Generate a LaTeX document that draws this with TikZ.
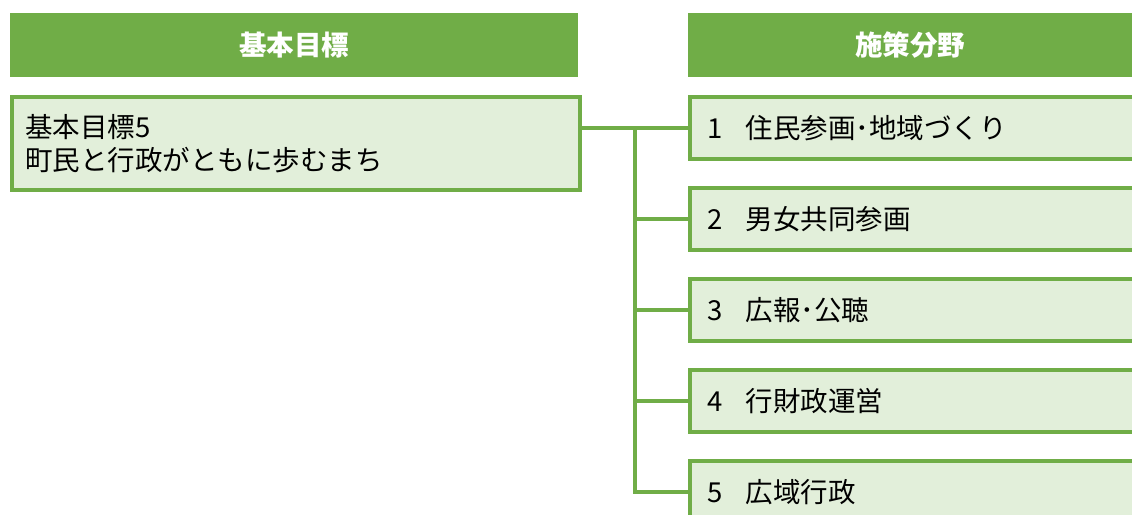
\documentclass[tikz,border=0pt]{standalone}
\usepackage{fontspec}
\setmainfont{Noto Sans CJK JP}
\usetikzlibrary{calc}
\definecolor{leaf}{HTML}{70AD47}
\definecolor{pale}{HTML}{E2EFDA}
\tikzset{
  head/.style={fill=leaf, text=white, font=\bfseries\fontsize{27.5}{30}\selectfont,
    minimum height=64pt, inner sep=0pt, anchor=north west},
  goalbox/.style={draw=leaf, fill=pale, line width=4pt, anchor=north west,
    minimum height=93pt, text width=542pt, inner xsep=13pt, align=left,
    font=\fontsize{27.5}{33}\selectfont},
  fieldbox/.style={draw=leaf, fill=pale, line width=4pt, anchor=north west,
    minimum height=62pt, text width=446pt, inner xsep=17pt, align=left,
    font=\fontsize{27.5}{30}\selectfont},
  link/.style={draw=leaf, line width=4pt}
}

\begin{document}
\begin{tikzpicture}[x=1pt,y=-1pt]
  \useasboundingbox (0,0) rectangle (1132,514);
  \fill[white] (0,0) rectangle (1132,514);
  \clip (0,0) rectangle (1132,514);
  % headers
  \node[head, minimum width=568pt] (goalhead) at (10,13) {基本目標};
  \node[head, minimum width=444pt] (fieldhead) at (688,13) {施策分野};
  % goal
  \node[goalbox] (goal) at (10,95) {基本目標5\\町民と行政がともに歩むまち};
  % fields
  \foreach \i/\name in {1/住民参画･地域づくり, 2/男女共同参画, 3/広報･公聴, 4/行財政運営, 5/広域行政}
    \node[fieldbox] (f\i) at (688,{95+91*(\i-1)}) {\i\hspace{0.85em}\name};
  % connectors
  \coordinate (hub) at ($(goal.east |- f1.west)!0.5!(f1.west)$);
  \draw[link] (goal.east |- f1.west) -- (f1.west);
  \foreach \i in {2,...,5}
    \draw[link] (hub) |- (f\i.west);
\end{tikzpicture}
\end{document}
